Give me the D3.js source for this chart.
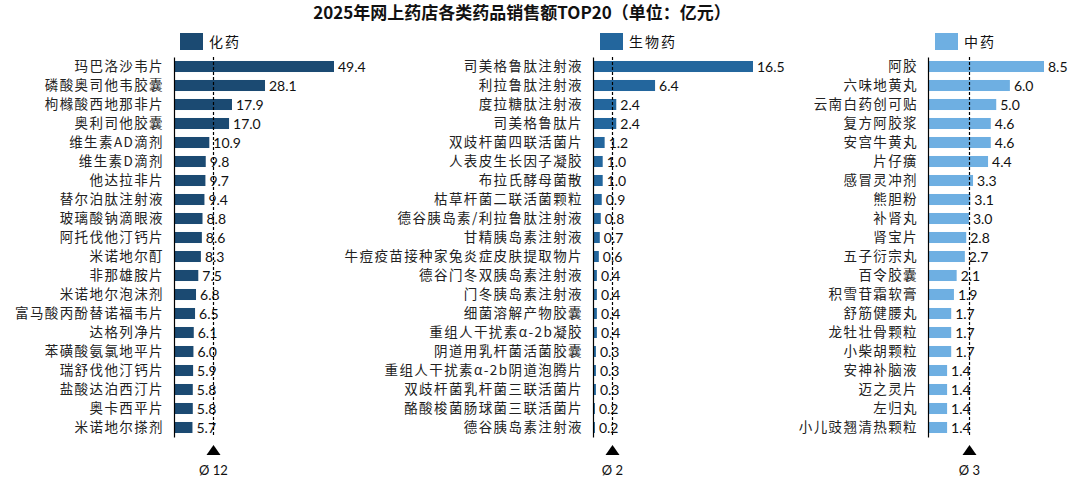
<!DOCTYPE html>
<html><head><meta charset="utf-8">
<script src="https://cdn.jsdelivr.net/npm/d3@7"></script>
<style>html,body{margin:0;padding:0;background:#fff;}</style>
</head><body>
<svg id="c" width="1071" height="477"></svg>
<script>
const chemNames = ["玛巴洛沙韦片","磷酸奥司他韦胶囊","枸橼酸西地那非片","奥利司他胶囊","维生素AD滴剂","维生素D滴剂","他达拉非片","替尔泊肽注射液","玻璃酸钠滴眼液","阿托伐他汀钙片","米诺地尔酊","非那雄胺片","米诺地尔泡沫剂","富马酸丙酚替诺福韦片","达格列净片","苯磺酸氨氯地平片","瑞舒伐他汀钙片","盐酸达泊西汀片","奥卡西平片","米诺地尔搽剂"];
const chemValues = [49.4,28.1,17.9,17.0,10.9,9.8,9.7,9.4,8.8,8.6,8.3,7.5,6.8,6.5,6.1,6.0,5.9,5.8,5.8,5.7];
const bioNames = ["司美格鲁肽注射液","利拉鲁肽注射液","度拉糖肽注射液","司美格鲁肽片","双歧杆菌四联活菌片","人表皮生长因子凝胶","布拉氏酵母菌散","枯草杆菌二联活菌颗粒","德谷胰岛素/利拉鲁肽注射液","甘精胰岛素注射液","牛痘疫苗接种家兔炎症皮肤提取物片","德谷门冬双胰岛素注射液","门冬胰岛素注射液","细菌溶解产物胶囊","重组人干扰素α-2b凝胶","阴道用乳杆菌活菌胶囊","重组人干扰素α-2b阴道泡腾片","双歧杆菌乳杆菌三联活菌片","酪酸梭菌肠球菌三联活菌片","德谷胰岛素注射液"];
const bioValues = [16.5,6.4,2.4,2.4,1.2,1.0,1.0,0.9,0.8,0.7,0.6,0.4,0.4,0.4,0.4,0.3,0.3,0.3,0.2,0.2];
const tcmNames = ["阿胶","六味地黄丸","云南白药创可贴","复方阿胶浆","安宫牛黄丸","片仔癀","感冒灵冲剂","熊胆粉","补肾丸","肾宝片","五子衍宗丸","百令胶囊","积雪苷霜软膏","舒筋健腰丸","龙牡壮骨颗粒","小柴胡颗粒","安神补脑液","迈之灵片","左归丸","小儿豉翘清热颗粒"];
const tcmValues = [8.5,6.0,5.0,4.6,4.6,4.4,3.3,3.1,3.0,2.8,2.7,2.1,1.9,1.7,1.7,1.7,1.4,1.4,1.4,1.4];
const seriesNames = ["化药","生物药","中药"];
const averages = [12,2,3];
const avgLabels = ["Ø 12","Ø 2","Ø 3"];
const title = "2025年网上药店各类药品销售额TOP20（单位：亿元）";

const panels = [
  {names: chemNames, values: chemValues, color: "#1b4a72", x0: 174, xMax: 334, dMax: 49.4, legendX: 180},
  {names: bioNames, values: bioValues, color: "#23669d", x0: 593, xMax: 753, dMax: 16.5, legendX: 600},
  {names: tcmNames, values: tcmValues, color: "#6eafe2", x0: 928, xMax: 1044, dMax: 8.5, legendX: 935}
];

const svg = d3.select("#c");
const labelFont = "'Noto Sans CJK SC', sans-serif";
const numFont = "Lato, 'Open Sans', sans-serif";

svg.append("text").attr("x", 522).attr("y", 19).attr("text-anchor", "middle")
  .attr("font-family", "'Noto Sans CJK SC', serif").attr("font-weight", "bold")
  .attr("font-size", 17).attr("fill", "#111").text(title);

panels.forEach((p, k) => {
  const g = svg.append("g");
  const y = d3.scaleBand().domain(p.names).range([57, 437]).paddingInner(0.42).paddingOuter(0.21);
  const x = d3.scaleLinear().domain([0, p.dMax]).range([p.x0, p.xMax]);

  // legend
  g.append("rect").attr("x", p.legendX).attr("y", 33).attr("width", 23).attr("height", 17).attr("fill", p.color);
  g.append("text").attr("x", p.legendX + 29).attr("y", 47).attr("font-family", labelFont)
    .attr("font-size", 14).attr("letter-spacing", 2).attr("fill", "#111").text(seriesNames[k]);

  // bars
  g.selectAll("rect.bar").data(p.values).join("rect").attr("class", "bar")
    .attr("x", x(0)).attr("y", (d, i) => y(p.names[i]))
    .attr("width", d => x(d) - x(0)).attr("height", y.bandwidth()).attr("fill", p.color);

  // value labels
  g.selectAll("text.val").data(p.values).join("text").attr("class", "val")
    .attr("x", d => x(d) + 4).attr("y", (d, i) => y(p.names[i]) + y.bandwidth() / 2)
    .attr("dy", "0.36em").attr("font-family", numFont).attr("font-size", 14).attr("fill", "#111")
    .text(d => d.toFixed(1));

  // category axis
  const ax = g.append("g").attr("transform", `translate(${p.x0},0)`)
    .call(d3.axisLeft(y).tickSize(0).tickPadding(10));
  ax.select(".domain").attr("stroke", "#000").attr("stroke-width", 1.2);
  ax.selectAll("text").attr("font-family", labelFont).attr("font-size", 13.5)
    .attr("letter-spacing", 1.4).attr("fill", "#222");

  // average line
  const ax0 = Math.round(x(averages[k])) + 0.5;
  g.append("line").attr("x1", ax0).attr("x2", ax0).attr("y1", 57).attr("y2", 437)
    .attr("stroke", "#000").attr("stroke-width", 1.2).attr("stroke-dasharray", "3,2");
  g.append("path").attr("d", `M${ax0 - 7},455 L${ax0 + 7},455 L${ax0},445 Z`).attr("fill", "#000");
  g.append("text").attr("x", ax0).attr("y", 472).attr("dominant-baseline", "middle").attr("text-anchor", "middle")
    .attr("font-family", numFont).attr("font-size", 13).attr("fill", "#111").text(avgLabels[k]);
});
</script>
</body></html>
